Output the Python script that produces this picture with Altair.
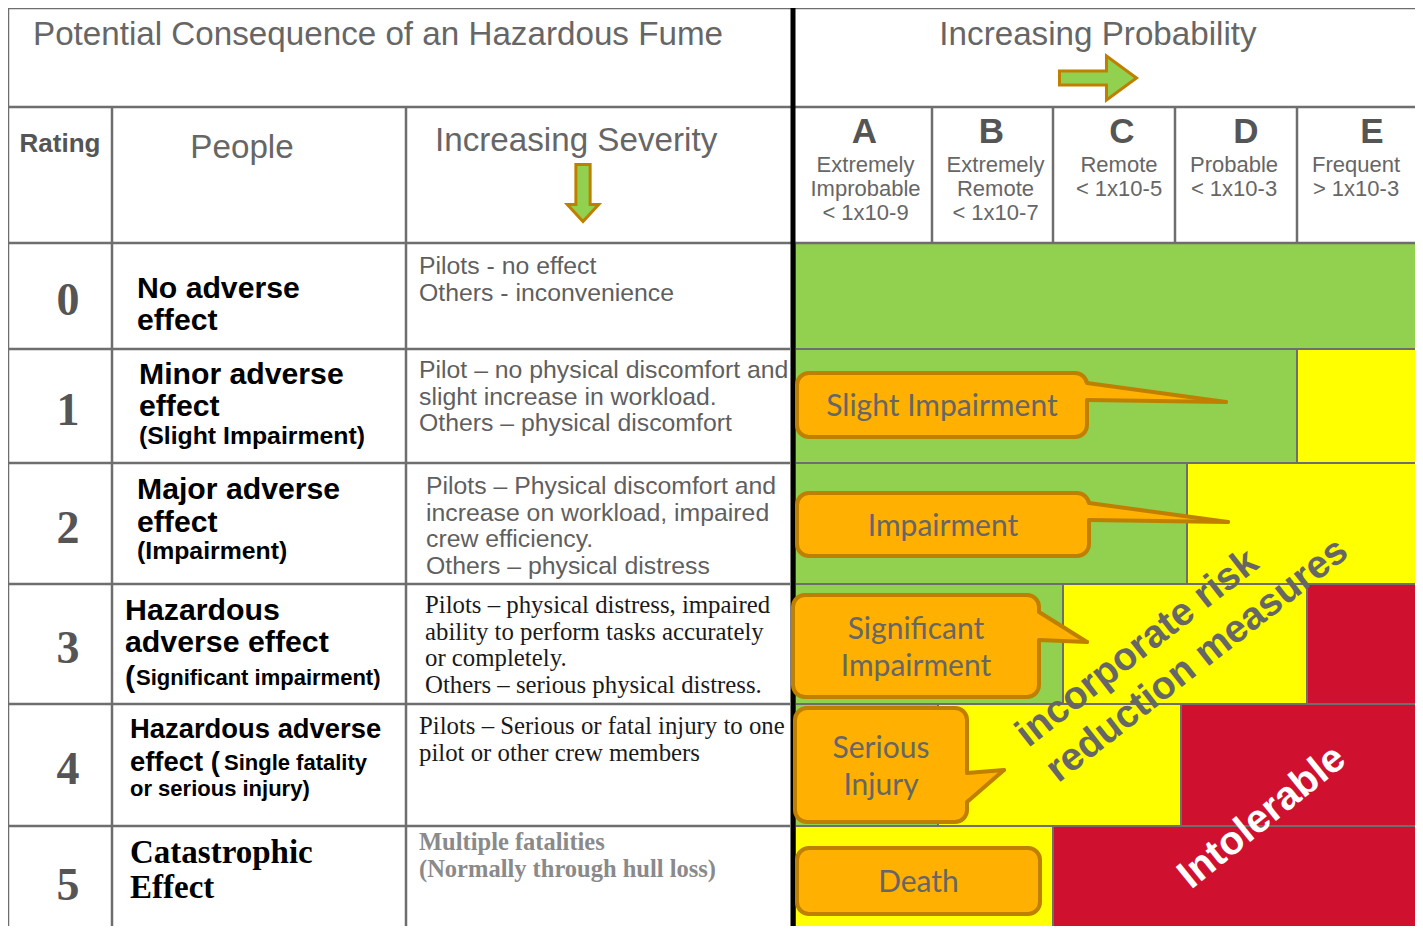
import altair as alt
import pandas as pd

# ======================= data =======================
left_title = "Potential Consequence of an Hazardous Fume"
right_title = "Increasing Probability"
column_titles = ["Rating", "People", "Increasing Severity"]

ratings = ["0", "1", "2", "3", "4", "5"]

people = [
    [["No adverse"], ["effect"]],
    [["Minor adverse"], ["effect"], ["(Slight Impairment)"]],
    [["Major adverse"], ["effect"], ["(Impairment)"]],
    [["Hazardous"], ["adverse effect"], ["(", "Significant impairment)"]],
    [["Hazardous adverse"], ["effect (", "Single fatality"], ["or serious injury)"]],
    [["Catastrophic"], ["Effect"]],
]

severity = [
    ["Pilots - no effect", "Others - inconvenience"],
    ["Pilot \u2013 no physical discomfort and", "slight increase in workload.",
     "Others \u2013 physical discomfort"],
    ["Pilots \u2013 Physical discomfort and", "increase on workload, impaired",
     "crew efficiency.", "Others \u2013 physical distress"],
    ["Pilots \u2013 physical distress, impaired", "ability to perform tasks accurately",
     "or completely.", "Others \u2013 serious physical distress."],
    ["Pilots \u2013 Serious or fatal injury to one", "pilot or other crew members"],
    ["Multiple fatalities", "(Normally through hull loss)"],
]

prob_letters = ["A", "B", "C", "D", "E"]
prob_names = [["Extremely", "Improbable"], ["Extremely", "Remote"], ["Remote"],
              ["Probable"], ["Frequent"]]
prob_limits = ["< 1x10-9", "< 1x10-7", "< 1x10-5", "< 1x10-3", "> 1x10-3"]

# risk level per severity row (0..5) and probability column (A..E)
risk = [
    ["G", "G", "G", "G", "G"],
    ["G", "G", "G", "G", "Y"],
    ["G", "G", "G", "Y", "Y"],
    ["G", "G", "Y", "Y", "R"],
    ["G", "Y", "Y", "R", "R"],
    ["Y", "Y", "R", "R", "R"],
]

callout_text = [["Slight Impairment"], ["Impairment"], ["Significant", "Impairment"],
                ["Serious", "Injury"], ["Death"]]

zone_text = [["incorporate risk", "reduction measures"], ["Intolerable"]]

# ======================= layout & style =======================
X0, X1 = 8, 1415
Y0, Y1 = 8, 926
W, H = X1 - X0, Y1 - Y0

SANS = "Liberation Sans"
SERIF = "Liberation Serif"
CALL = "Lato"
GRAY = "#666666"
DGRAY = "#555555"
LINE = "#6e6e6e"
RISK_COLORS = {"G": "#92d050", "Y": "#ffff00", "R": "#d0102f"}
ORANGE = "#ffb000"
ORANGE_EDGE = "#bf8000"

left_cols = [8, 112, 406, 790]
mat_cols = [795, 932, 1053, 1175, 1297, 1423]
row_shift = [0, 0, 12, 10, 6, 0]   # small horizontal offset of inner cell edges per row
head_top, head_mid, head_bot = 8, 107, 243
row_edges = [243, 349, 463, 584, 704, 826, 940]
divider_x = 793

people_x = [137, 139, 137, 125, 130, 130]
people_y = [[289, 321], [375, 407, 437], [490, 523, 552], [611, 643, 678],
            [730, 763, 789], [853, 888]]
people_kind = [[["m"], ["m"]], [["m"], ["m"], ["s"]], [["m"], ["m"], ["s"]],
               [["m"], ["m"], ["m", "s"]], [["m"], ["m", "s"], ["s"]], [["m"], ["m"]]]
people_seg_x = {(3, 2): 136, (4, 1): 224}
people_main = [30.2, 30.2, 30.2, 30.3, 27.4, 33]
people_sub = [24.8, 24.8, 24.8, 22, 22, 22]

sev_x = [419, 419, 426, 425, 419, 419]
sev_y0 = [267, 371, 487, 606, 727, 843]
sev_step = 26.5
sev_style = [
    (SANS, "normal", "#5f5f5f", 24.8), (SANS, "normal", "#5f5f5f", 24.8),
    (SANS, "normal", "#5f5f5f", 24.8), (SERIF, "normal", "#1a1a1a", 24.8),
    (SERIF, "normal", "#1a1a1a", 24.8), (SERIF, "bold", "#8a8a8a", 24.5),
]

callout_box = [(797, 1087, 373, 437), (797, 1089, 493, 556), (793, 1039, 595, 697),
               (795, 967, 708, 822), (797, 1040, 848, 914)]
# (base x, base y top, base y bottom, tip x, tip y)
callout_ptr = [(1087, 383, 400, 1226, 402), (1089, 503, 520, 1228, 522),
               (1039, 612, 640, 1087, 642), (967, 773, 802, 1004, 770)]

zone_pos = [[(1137, 648), (1197, 660)], [(1262, 817)]]
zone_style = [("#666666", 39, 322), ("#ffffff", 40, 321)]

# ======================= build tables =======================
lines = []
def hline(y, xa, xb, w=2.5, c=LINE):
    lines.append(dict(x=xa, x2=xb, y=y, y2=y, w=w, c=c))
def vline(x, ya, yb, w=2.5, c=LINE):
    lines.append(dict(x=x, x2=x, y=ya, y2=yb, w=w, c=c))

hline(head_top, left_cols[0], 1440)
hline(head_mid, left_cols[0], 1440)
hline(head_bot, left_cols[0], 1440)
for y in row_edges[1:-1]:
    hline(y, left_cols[0], left_cols[-1])
vline(left_cols[0], head_top, 950)
vline(left_cols[1], head_mid, 950)
vline(left_cols[2], head_mid, 950)
for x in mat_cols[1:-1]:
    vline(x, head_mid, head_bot)
lines_df = pd.DataFrame(lines)
black_df = pd.DataFrame([dict(x=divider_x, x2=divider_x, y=head_top, y2=950)])

cells = []
for r, row in enumerate(risk):
    def edge(k):
        if k == 0:
            return mat_cols[0]
        if k == len(row):
            return mat_cols[-1] + 30
        return mat_cols[k] + row_shift[r]
    c = 0
    while c < len(row):
        e = c
        while e + 1 < len(row) and row[e + 1] == row[c]:
            e += 1
        cells.append(dict(x=edge(c), x2=edge(e + 1), y=row_edges[r], y2=row_edges[r + 1],
                          fill=RISK_COLORS[row[c]]))
        c = e + 1
cells_df = pd.DataFrame(cells)

boxes_df = pd.DataFrame([dict(x=b[0], x2=b[1], y=b[2], y2=b[3]) for b in callout_box])
area_rows, ptr_lines = [], []
for i, (bx, by1, by2, tx, ty) in enumerate(callout_ptr):
    area_rows.append(dict(id=i, x=bx - 3, y=by1, y2=by2))
    area_rows.append(dict(id=i, x=tx, y=ty, y2=ty))
    ptr_lines.append(dict(x=bx, y=by1, x2=tx, y2=ty))
    ptr_lines.append(dict(x=bx, y=by2, x2=tx, y2=ty))
area_df = pd.DataFrame(area_rows)
ptr_df = pd.DataFrame(ptr_lines)

T = []
def add(text, x, y, size, color, font=SANS, weight="normal", align="left", angle=0):
    T.append(dict(text=text, x=x, y=y, size=size, color=color, font=font,
                  weight=weight, align=align, angle=angle))

add(left_title, 33, 35, 33.2, GRAY)
add(right_title, 1098, 35, 33.2, GRAY, align="center")
add(column_titles[0], 60, 144, 26, DGRAY, weight="bold", align="center")
add(column_titles[1], 242, 148, 33.2, GRAY, align="center")
add(column_titles[2], 435, 141, 33.2, GRAY)

letter_dx = [1, -1, 8, 10, 12]
sub_dx = [2, 3, 5, -2, -4]
for i in range(5):
    cx = (mat_cols[i] + mat_cols[i + 1]) / 2
    add(prob_letters[i], cx + letter_dx[i], 132, 35, DGRAY, weight="bold", align="center")
    for j, l in enumerate(prob_names[i] + [prob_limits[i]]):
        add(l, cx + sub_dx[i], 165 + 24 * j, 22, GRAY, align="center")

for r, num in enumerate(ratings):
    cy = (row_edges[r] + min(row_edges[r + 1], 936)) / 2 + 5
    add(num, 68, cy, 46, DGRAY, font=SERIF, weight="bold", align="center")

for r, row in enumerate(people):
    font = SERIF if r == 5 else SANS
    for li, segs in enumerate(row):
        for si, seg in enumerate(segs):
            kind = people_kind[r][li][si]
            x = people_x[r] if si == 0 else people_seg_x[(r, li)]
            size = people_main[r] if kind == "m" else people_sub[r]
            add(seg, x, people_y[r][li], size, "#000000", font=font, weight="bold")

for r, row in enumerate(severity):
    font, weight, color, size = sev_style[r]
    for j, l in enumerate(row):
        add(l, sev_x[r], sev_y0[r] + sev_step * j, size, color, font=font, weight=weight)

for i, txt in enumerate(callout_text):
    x0, x1, y0, y1 = callout_box[i]
    cx, cy = (x0 + x1) / 2, (y0 + y1) / 2 + 2
    n = len(txt)
    for j, l in enumerate(txt):
        add(l, cx, cy + (j - (n - 1) / 2) * 37, 30, "#666666", font=CALL, align="center")

for k, group in enumerate(zone_text):
    color, size, ang = zone_style[k]
    for j, l in enumerate(group):
        px, py = zone_pos[k][j]
        add(l, px, py, size, color, weight="bold", align="center", angle=ang)

text_df = pd.DataFrame(T)

# ======================= chart =======================
xs = alt.Scale(domain=[X0, X1], nice=False, zero=False)
ys = alt.Scale(domain=[Y0, Y1], nice=False, zero=False, reverse=True)
def ex(f="x"):
    return alt.X(f"{f}:Q", scale=xs, axis=None)
def ey(f="y"):
    return alt.Y(f"{f}:Q", scale=ys, axis=None)

layers = []
layers.append(alt.Chart(cells_df).mark_rect(clip=True, stroke=LINE, strokeWidth=2).encode(
    x=ex(), x2="x2:Q", y=ey(), y2="y2:Q", fill=alt.Fill("fill:N", scale=None)))
layers.append(alt.Chart(lines_df).mark_rule(clip=True).encode(
    x=ex(), x2="x2:Q", y=ey(), y2="y2:Q",
    color=alt.Color("c:N", scale=None), strokeWidth=alt.StrokeWidth("w:Q", scale=None)))
layers.append(alt.Chart(black_df).mark_rule(clip=True, color="#000000", strokeWidth=5).encode(
    x=ex(), x2="x2:Q", y=ey(), y2="y2:Q"))

arrow_right = "M-1,-0.18 L0.22,-0.18 L0.22,-0.57 L1,0 L0.22,0.57 L0.22,0.18 L-1,0.18 Z"
arrow_down = "M-0.25,-1 L0.25,-1 L0.25,0.4 L0.55,0.4 L0,1 L-0.55,0.4 L-0.25,0.4 Z"
layers.append(alt.Chart(pd.DataFrame([dict(x=1098, y=78)])).mark_point(
    shape=arrow_right, size=77 * 77, filled=True, fill="#92d050", stroke=ORANGE_EDGE,
    strokeWidth=3, opacity=1).encode(x=ex(), y=ey()))
layers.append(alt.Chart(pd.DataFrame([dict(x=583, y=193)])).mark_point(
    shape=arrow_down, size=57 * 57, filled=True, fill="#92d050", stroke=ORANGE_EDGE,
    strokeWidth=3, opacity=1).encode(x=ex(), y=ey()))

layers.append(alt.Chart(boxes_df).mark_rect(
    cornerRadius=12, fill=ORANGE, stroke=ORANGE_EDGE, strokeWidth=4, opacity=1).encode(
    x=ex(), x2="x2:Q", y=ey(), y2="y2:Q"))
layers.append(alt.Chart(area_df).mark_area(fill=ORANGE, opacity=1).encode(
    x=ex(), y=ey(), y2="y2:Q", detail="id:N"))
layers.append(alt.Chart(ptr_df).mark_rule(
    color=ORANGE_EDGE, strokeWidth=4, strokeCap="round").encode(
    x=ex(), x2="x2:Q", y=ey(), y2="y2:Q"))

for (font, weight, align), sub in text_df.groupby(["font", "weight", "align"]):
    layers.append(alt.Chart(sub.reset_index(drop=True)).mark_text(
        font=font, fontWeight=weight, align=align, baseline="middle").encode(
        x=ex(), y=ey(), text="text:N",
        size=alt.Size("size:Q", scale=None),
        color=alt.Color("color:N", scale=None),
        angle=alt.Angle("angle:Q", scale=None)))

chart = alt.layer(*layers).properties(
    width=W, height=H, padding=0, background="#ffffff"
).configure_view(stroke=None)

chart.save("out.html", embed_options={"renderer": "svg", "actions": False})
